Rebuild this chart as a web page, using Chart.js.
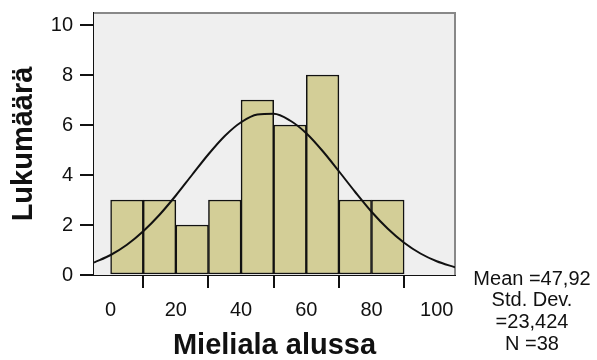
<!DOCTYPE html>
<html>
<head>
<meta charset="utf-8">
<script src="https://cdn.jsdelivr.net/npm/chart.js@4/dist/chart.umd.min.js"></script>
<style>
    body { margin: 0; background: #fff; }
    canvas { display: block; }
</style>
</head>
<body>
<canvas id="histChart" width="597" height="360"></canvas>
<script>
// histogram data (bin centres, width 10)
const binCenters = [5, 15, 25, 35, 45, 55, 65, 75, 85];
const binCounts = [3, 3, 2, 3, 7, 6, 8, 3, 3];

// normal curve
const curveX = [-5.1, 0, 5, 10, 15, 20, 25, 30, 35, 40, 45, 50, 55, 60, 65, 70, 75, 80, 85, 90, 95, 100, 105.6];
const curveY = [0.50, 0.80, 1.21, 1.75, 2.41, 3.18, 4.01, 4.83, 5.56, 6.11, 6.42, 6.45, 6.18, 5.67, 4.96, 4.15, 3.32, 2.53, 1.85, 1.29, 0.86, 0.55, 0.31];

const xTicks = [0, 20, 40, 60, 80, 100];
const yTicks = [0, 2, 4, 6, 8, 10];

const statsLines = ['Mean =47,92', 'Std. Dev.', '=23,424', 'N =38'];

const FONT = "'Liberation Sans', Arial, sans-serif";

// plot background + gray frame on top/right
const framePlugin = {
    id: 'frame',
    beforeDatasetsDraw(chart) {
        const { ctx, chartArea: a } = chart;
        ctx.save();
        ctx.fillStyle = '#efefef';
        ctx.fillRect(a.left, a.top, a.right - a.left, a.bottom - a.top);
        ctx.strokeStyle = '#888888';
        ctx.lineWidth = 2;
        ctx.beginPath();
        ctx.moveTo(a.left, a.top);
        ctx.lineTo(a.right, a.top);
        ctx.lineTo(a.right, a.bottom);
        ctx.stroke();
        ctx.restore();
    }
};

// statistics text at the right
const statsPlugin = {
    id: 'stats',
    afterDraw(chart) {
        const ctx = chart.ctx;
        ctx.save();
        ctx.font = '20px ' + FONT;
        ctx.fillStyle = '#111';
        ctx.textAlign = 'center';
        ctx.textBaseline = 'middle';
        statsLines.forEach((line, i) => {
            ctx.fillText(line, 532, 279 + i * 21.7);
        });
        ctx.restore();
    }
};

function createChart() {
    const ctx = document.getElementById('histChart').getContext('2d');

    new Chart(ctx, {
        data: {
            datasets: [
                {
                    type: 'line',
                    data: curveX.map((x, i) => ({ x: x, y: curveY[i] })),
                    borderColor: '#111',
                    borderWidth: 2,
                    pointRadius: 0,
                    cubicInterpolationMode: 'monotone',
                    fill: false,
                    order: 1
                },
                {
                    type: 'bar',
                    data: binCenters.map((x, i) => ({ x: x, y: binCounts[i] })),
                    backgroundColor: '#d3ce97',
                    borderColor: '#111',
                    borderWidth: 1.5,
                    borderSkipped: false,
                    barPercentage: 1,
                    categoryPercentage: 1,
                    order: 2
                }
            ]
        },
        options: {
            responsive: false,
            animation: false,
            layout: {
                padding: { left: 9.5, top: 13, right: 142, bottom: 0 }
            },
            plugins: {
                legend: { display: false },
                tooltip: { enabled: false }
            },
            scales: {
                x: {
                    type: 'linear',
                    min: -5.1,
                    max: 105.6,
                    offset: false,
                    afterBuildTicks: scale => { scale.ticks = xTicks.map(v => ({ value: v })); },
                    afterFit: scale => {
                        scale.height = 85;
                        scale.paddingLeft = 0;
                        scale.paddingRight = 0;
                    },
                    border: { display: true, color: '#111', width: 2 },
                    grid: {
                        drawOnChartArea: false,
                        drawTicks: true,
                        tickLength: 13,
                        color: '#111',
                        lineWidth: 2
                    },
                    ticks: {
                        padding: 10,
                        color: '#111',
                        maxRotation: 0,
                        font: { family: FONT, size: 20 }
                    },
                    title: {
                        display: true,
                        text: 'Mieliala alussa',
                        color: '#111',
                        padding: 0,
                        font: { family: FONT, size: 29, weight: 'bold', lineHeight: 1 }
                    }
                },
                y: {
                    type: 'linear',
                    min: 0,
                    max: 10.48,
                    afterBuildTicks: scale => { scale.ticks = yTicks.map(v => ({ value: v })); },
                    afterFit: scale => {
                        scale.width = 84.5;
                        scale.paddingTop = 0;
                        scale.paddingBottom = 0;
                    },
                    border: { display: true, color: '#111', width: 2 },
                    grid: {
                        drawOnChartArea: false,
                        drawTicks: true,
                        tickLength: 14,
                        color: '#111',
                        lineWidth: 2
                    },
                    ticks: {
                        padding: 7,
                        color: '#111',
                        font: { family: FONT, size: 20 }
                    },
                    title: {
                        display: true,
                        text: 'Lukumäärä',
                        color: '#111',
                        padding: 0,
                        font: { family: FONT, size: 29, weight: 'bold', lineHeight: 1 }
                    }
                }
            }
        },
        plugins: [framePlugin, statsPlugin]
    });
}

document.addEventListener('DOMContentLoaded', createChart);
</script>
</body>
</html>
